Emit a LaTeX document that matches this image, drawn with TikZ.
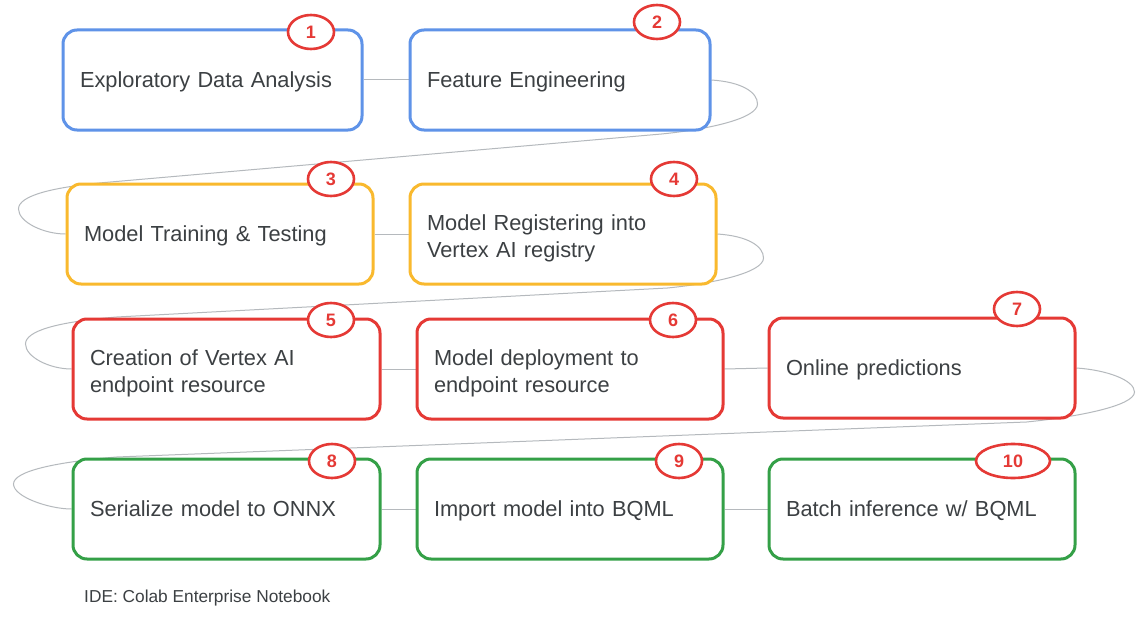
\documentclass[tikz,border=0pt]{standalone}
\usepackage{fontspec}
\setmainfont{Liberation Sans}
\usetikzlibrary{shapes.geometric,calc,backgrounds}
\definecolor{cblue}{HTML}{5F93E8}
\definecolor{cyel}{HTML}{F9B92E}
\definecolor{cred}{HTML}{E53935}
\definecolor{cgreen}{HTML}{34A047}
\definecolor{ctext}{HTML}{3C4043}
\definecolor{cconn}{HTML}{B5B9BD}
\tikzset{
  stepbox/.style={draw, line width=3pt, rounded corners=14pt, fill=white,
    minimum height=100pt, inner xsep=17pt, inner ysep=4pt, align=left,
    text=ctext, font=\fontsize{21.8}{27}\selectfont,
    execute at end node={\par\vspace*{-9pt}}},
  numtag/.style={ellipse, draw=cred, line width=2.6pt, fill=white, text=cred,
    minimum width=46pt, minimum height=34pt, inner sep=0pt,
    font=\fontsize{18}{18}\selectfont\bfseries},
  conn/.style={draw=cconn, line width=1pt},
}
\newcommand{\sconn}[4]{%
  \draw[conn] (#1.east) .. controls +(30,2) and +(0,-12) .. ($(#1.east)+(#3,24)$)
    .. controls +(0,14) and +(50,-5) .. ($(#1.east)+(-50,54)$)
    -- ($(#2.west)+(45,-52)$)
    .. controls +(-60,5) and +(0,-13) .. ($(#2.west)+(-#4,-25)$)
    .. controls +(0,13) and +(-22,0) .. (#2.west);}
\begin{document}
\begin{tikzpicture}[x=1pt,y=-1pt]
\useasboundingbox (0,0) rectangle (1144,642);
% boxes
\node[stepbox, draw=cblue, text width=265pt] (b1) at (212.5,80) {Exploratory Data Analysis};
\node[stepbox, draw=cblue, text width=266pt] (b2) at (560,80) {Feature Engineering};
\node[stepbox, draw=cyel, text width=272pt] (b3) at (220,234) {Model Training \& Testing};
\node[stepbox, draw=cyel, text width=272pt] (b4) at (563,234) {Model Registering into\\Vertex AI registry};
\node[stepbox, draw=cred, text width=273pt] (b5) at (226.5,369) {Creation of Vertex AI\\endpoint resource};
\node[stepbox, draw=cred, text width=272pt] (b6) at (570,369) {Model deployment to\\endpoint resource};
\node[stepbox, draw=cred, text width=272pt] (b7) at (922,368) {Online predictions};
\node[stepbox, draw=cgreen, text width=273pt] (b8) at (226.5,509) {Serialize model to ONNX};
\node[stepbox, draw=cgreen, text width=272pt] (b9) at (570,509) {Import model into BQML};
\node[stepbox, draw=cgreen, text width=272pt] (b10) at (922,509) {Batch inference w/ BQML};
% connectors (behind boxes)
\begin{scope}[on background layer]
\fill[white] (0,0) rectangle (1144,642);
\draw[conn] (b1.east) -- (b2.west);
\draw[conn] (b3.east) -- (b4.west);
\draw[conn] (b5.east) -- (b6.west);
\draw[conn] (b6.east) -- (b7.west);
\draw[conn] (b8.east) -- (b9.west);
\draw[conn] (b9.east) -- (b10.west);
\sconn{b2}{b3}{46}{47}
\sconn{b4}{b5}{46}{46}
\sconn{b7}{b8}{58}{58}
\end{scope}
% number tags
\node[numtag] (n1) at (311,32) {1};
\node[numtag] (n2) at (657,22) {2};
\node[numtag] (n3) at (331,179) {3};
\node[numtag] (n4) at (674,179) {4};
\node[numtag] (n5) at (331,320) {5};
\node[numtag] (n6) at (673,320) {6};
\node[numtag] (n7) at (1017,309) {7};
\node[numtag] (n8) at (332,461) {8};
\node[numtag] (n9) at (679,461) {9};
\node[numtag, minimum width=74pt] (n10) at (1013,461) {10};
\node[anchor=west, text=ctext, font=\fontsize{17.3}{20}\selectfont, inner sep=0pt] (ide) at (84,598) {IDE: Colab Enterprise Notebook};
\end{tikzpicture}
\end{document}
